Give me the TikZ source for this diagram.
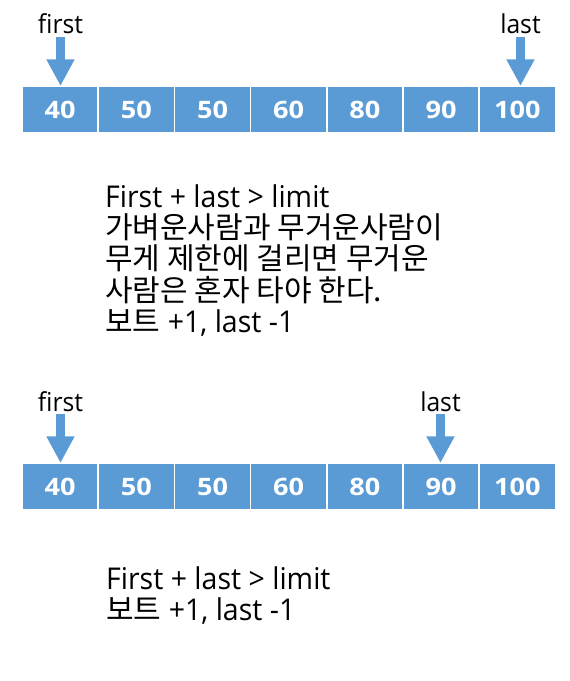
\documentclass[tikz,border=0pt]{standalone}
\usepackage{fontspec}
\setmainfont{Open Sans}[FakeStretch=0.95]
\newfontfamily\numfont{Open Sans}[FakeStretch=1.13]
\newfontfamily\kr{Noto Sans CJK KR}
\usetikzlibrary{arrows.meta}
\definecolor{cellblue}{HTML}{5B9BD5}
\tikzset{
  cell/.style={fill=cellblue, draw=white, line width=1.5pt, minimum width=76.2pt,
    minimum height=47pt, inner sep=0pt, text=white, font=\fontsize{24}{28}\selectfont\numfont\bfseries},
  ptr/.style={font=\fontsize{26}{30}\selectfont, inner sep=0pt, anchor=base},
  ptrarrow/.style={cellblue, line width=8.7pt, -{Triangle[width=26.4pt,length=26.7pt]}},
  note/.style={font=\fontsize{30}{31.5}\selectfont, align=left, inner sep=0pt, anchor=north west}
}
\begin{document}
\begin{tikzpicture}[x=1pt,y=-1pt]
\useasboundingbox (0,0) rectangle (570,681);
% top row
\foreach \v [count=\i] in {40,50,50,60,80,90,100}
  \node[cell] (t\i) at ({22+(\i-0.5)*76.2},109.5) {\v};
% bottom row
\foreach \v [count=\i] in {40,50,50,60,80,90,100}
  \node[cell] (b\i) at ({22+(\i-0.5)*76.2},486.5) {\v};
% pointers top
\node[ptr] (tf) at (60.5,33) {first};
\node[ptr] (tl) at (520.5,33) {last};
\coordinate (tfs) at (60.5,37);
\coordinate (tls) at (520.5,37);
\coordinate (tfe) at (60.5,86);
\coordinate (tle) at (520.5,86);
\draw[ptrarrow] (tfs) -- (tfe);
\draw[ptrarrow] (tls) -- (tle);
% pointers bottom
\node[ptr] (bf) at (60.5,411.5) {first};
\node[ptr] (bl) at (440.5,411.5) {last};
\coordinate (bfs) at (60.5,414);
\coordinate (bls) at (440.5,414);
\coordinate (bfe) at (60.5,463);
\coordinate (ble) at (440.5,463);
\draw[ptrarrow] (bfs) -- (bfe);
\draw[ptrarrow] (bls) -- (ble);
% notes
\node[note] (n1) at (105,184) {First + last > limit\\
{\kr 가벼운사람과 무거운사람이}\\
{\kr 무게 제한에 걸리면 무거운}\\
{\kr 사람은 혼자 타야 한다.}\\
{\kr 보트} +1, last -1};
\node[note] (n2) at (106,566) {First + last > limit\\
{\kr 보트} +1, last -1};
\end{tikzpicture}
\end{document}
